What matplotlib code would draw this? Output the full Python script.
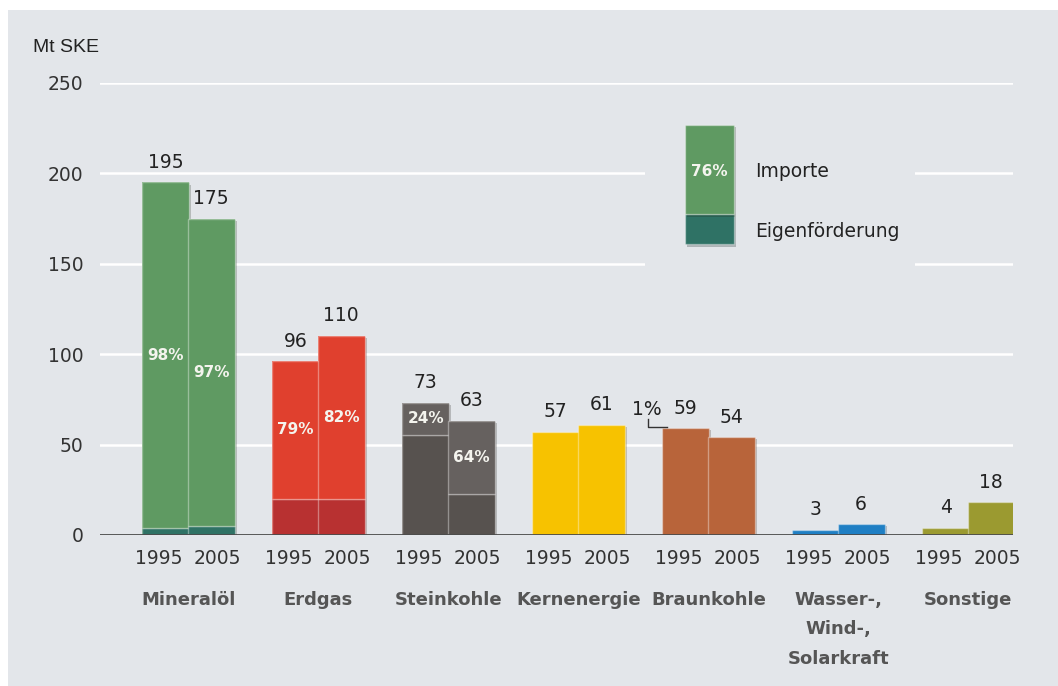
import numpy as np
import matplotlib
matplotlib.use("Agg")
import matplotlib.pyplot as plt
from matplotlib.patches import Rectangle
import matplotlib.patheffects as pe

categories = ['Mineralöl', 'Erdgas', 'Steinkohle', 'Kernenergie', 'Braunkohle',
              'Wasser-,\nWind-,\nSolarkraft', 'Sonstige']
years = ['1995', '2005']
v1995 = [195, 96, 73, 57, 59, 3, 4]
v2005 = [175, 110, 63, 61, 54, 6, 18]
imp1995 = [98, 79, 24, None, 1, None, None]   # Importanteil in %
imp2005 = [97, 82, 64, None, None, None, None]

col_own = ['#2f7265', '#b83131', '#57524f', '#f7c200', '#b8643a', '#1f7fc4', '#9b9a30']
col_imp = ['#5f9a62', '#e0402e', '#66615f', '#f7c200', '#b8643a', '#1f7fc4', '#9b9a30']
bg = '#e3e6ea'

fig = plt.figure(figsize=(10.58, 6.86), dpi=100, facecolor='white')
fig.patches.append(Rectangle((8 / 1058, 0), 1, 676 / 686, transform=fig.transFigure,
                             facecolor=bg, edgecolor='none', zorder=-10))
ax = fig.add_axes([100 / 1058, 1 - 535 / 686, 913 / 1058, 452 / 686])
ax.set_zorder(1)
ax.set_facecolor('none')
ax.set_xlim(-0.68, 6.343)
ax.set_ylim(0, 250)

for s in ax.spines.values():
    s.set_visible(False)
for yv in range(50, 251, 50):
    ax.axhline(yv, color='white', lw=1.8, zorder=1)
ax.axhline(0, color='#4a4a4a', lw=2, zorder=4)
# gap in the grid behind the legend
ax.add_patch(Rectangle((3.51, 135), 2.08, 98, facecolor=bg, edgecolor='none', zorder=1.5))

w = 0.36
off = 0.175
x = np.arange(len(categories))
shadow = [pe.SimplePatchShadow(offset=(1.5, -1.5), alpha=0.25), pe.Normal()]
edge = (1, 1, 1, 0.35)

for vals, pcts, sign in [(v1995, imp1995, -1), (v2005, imp2005, 1)]:
    xs = x + sign * off
    for i in range(len(categories)):
        total = vals[i]
        p = pcts[i]
        if p is not None and p >= 10:
            imp = total * p / 100
            own = total - imp
            b = ax.bar(xs[i], total, w, color=col_imp[i], edgecolor='none', zorder=2)
            b[0].set_path_effects(shadow)
            ax.bar(xs[i], own, w, color=col_own[i], edgecolor=edge, lw=1, zorder=2.5)
            ax.bar(xs[i], imp, w, bottom=own, color=col_imp[i], edgecolor=edge, lw=1, zorder=2.5)
            ax.text(xs[i], own + imp / 2, f'{p}%', color='#f4f4ee', fontsize=11,
                    fontweight='bold', ha='center', va='center', zorder=5)
        else:
            b = ax.bar(xs[i], total, w, color=col_own[i], edgecolor=edge, lw=1, zorder=2)
            b[0].set_path_effects(shadow)
            if p is not None:
                left = xs[i] - w / 2
                ax.plot([left - 0.11, left - 0.11, left + 0.04], [total + 5, total + 0.5, total + 0.5],
                        color='#333333', lw=1, zorder=5)
                ax.text(left - 0.12, total + 10.5, f'{p}%', fontsize=13.5, color='#222222',
                        ha='center', va='center')
        ax.annotate(str(total), (xs[i], total), xytext=(0, 14.5), textcoords='offset points',
                    ha='center', va='center', fontsize=13.5, color='#222222')

# x ticks (years) and category names
toff = 0.225
ax.set_xticks(np.concatenate([x - toff, x + toff]))
ax.set_xticklabels([years[0]] * len(x) + [years[1]] * len(x))
ax.tick_params(axis='x', length=0, pad=10, labelsize=13.5, labelcolor='#333333')
ax.set_yticks(range(0, 251, 50))
ax.tick_params(axis='y', length=0, pad=12, labelsize=13.5, labelcolor='#333333')
for i, c in enumerate(categories):
    ax.annotate(c, (x[i], 0), xytext=(0, -40), textcoords='offset points', ha='center',
                va='top', fontsize=13, fontweight='bold', color='#555555', linespacing=1.85)

fig.text(33 / 1058, 1 - 47 / 686, 'Mt SKE', fontsize=14, family='Liberation Sans',
         color='#222222', va='center', ha='left')

# legend
lx0, lx1 = 3.819, 4.196
ax.add_patch(Rectangle((lx0, 160.7), lx1 - lx0, 177.3 - 160.7, facecolor=col_own[0],
                       edgecolor=edge, lw=1, zorder=3, path_effects=shadow))
ax.add_patch(Rectangle((lx0, 177.3), lx1 - lx0, 227 - 177.3, facecolor=col_imp[0],
                       edgecolor=edge, lw=1, zorder=3, path_effects=shadow))
ax.text((lx0 + lx1) / 2, 201, '76%', color='#f4f4ee', fontsize=11, fontweight='bold',
        ha='center', va='center', zorder=5)
ax.text(4.357, 201, 'Importe', fontsize=13.5, color='#222222', va='center', ha='left')
ax.text(4.357, 168, 'Eigenförderung', fontsize=13.5, color='#222222', va='center', ha='left')

fig.savefig('out.png', dpi=100, facecolor=fig.get_facecolor())
